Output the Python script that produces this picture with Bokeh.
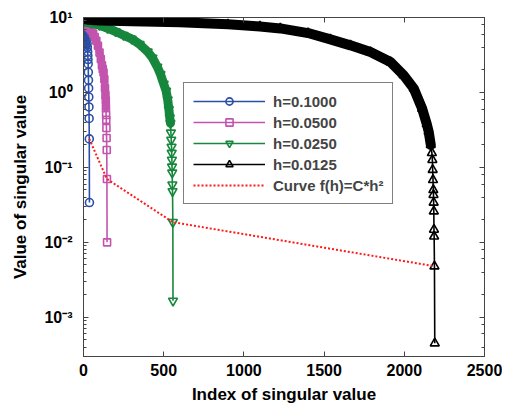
from bokeh.plotting import figure
from bokeh.models import (LogAxis, LinearAxis, Legend, LegendItem, CustomJSTickFormatter,
                          Range1d, FixedTicker)
from bokeh.embed import file_html
from bokeh.resources import INLINE

# ---------------- data ----------------
blue_x = [1, 5, 9, 13, 17, 20, 22, 24, 26, 27, 28, 29, 30, 31, 32, 33, 34, 35, 36, 37]
blue_y = [8.7, 8.1, 7.4, 6.6, 5.8, 5.1, 4.5, 4.0, 3.5, 3.1, 2.75, 2.4, 1.86, 1.46, 1.14,
          0.87, 0.64, 0.45, 0.24, 0.034]

pink_x = [1, 10, 20, 30, 40, 50, 60, 70, 80, 90, 100, 108, 115, 120, 125, 130, 134, 137,
          139, 140, 141, 142, 143, 144, 145, 146, 147]
pink_y = [8.4, 8.2, 7.9, 7.6, 7.2, 6.7, 6.1, 5.5, 4.9, 4.2, 3.4, 2.8, 2.3, 2.05, 1.85, 1.5,
          1.15, 0.92, 0.78, 0.62, 0.5, 0.43, 0.336, 0.247, 0.171, 0.070, 0.0100]

green_x = [1, 50, 100, 150, 200, 250, 300, 350, 400, 430, 460, 480, 500, 515, 525, 532, 538,
           542, 545, 547, 549, 550, 551, 552, 553, 554, 555, 557, 558]
green_y = [8.7, 8.4, 7.9, 7.2, 6.5, 5.8, 5.2, 4.4, 3.5, 2.9, 2.2, 1.75, 1.3, 1.05, 0.8, 0.6,
           0.46, 0.39, 0.29, 0.233, 0.188, 0.156, 0.126, 0.102, 0.085, 0.059, 0.048, 0.0186,
           0.00166]

black_x = [1, 100, 300, 600, 900, 1100, 1227, 1400, 1539, 1664, 1789, 1914, 1996, 2059, 2111,
           2140, 2152, 2165, 2172, 2175, 2177, 2179, 2181, 2182, 2183, 2184, 2185, 2186, 2188,
           2190]
black_y = [9.4, 9.1, 8.9, 8.67, 8.1, 7.6, 7.15, 6.2, 5.1, 4.25, 3.46, 2.55, 1.70, 1.13, 0.61,
           0.38, 0.30, 0.2, 0.156, 0.126, 0.093, 0.068, 0.050, 0.043, 0.034, 0.026, 0.0148,
           0.012, 0.0048, 0.00045]

# number of leading points drawn so densely that they merge into a band
blue_dense, pink_dense, green_dense, black_dense = 8, 20, 18, 18

# red curve f(h)=C*h^2 goes through the second-to-last point of each series
red_x = [blue_x[-2], pink_x[-2], green_x[-2], black_x[-2]]
red_y = [blue_y[-2], pink_y[-2], green_y[-2], black_y[-2]]

labels = ["h=0.1000", "h=0.0500", "h=0.0250", "h=0.0125", "Curve f(h)=C*h\u00b2"]
x_ticks = [0, 500, 1000, 1500, 2000, 2500]

# ---------------- styling ----------------
BLUE = "#2B4EA6"
PINK = "#C254AE"
GREEN = "#16873C"
BLACK = "#000000"
RED = "#FF1A1A"
FONT = "Liberation Sans"
AX = "#444444"

p = figure(width=502, height=408, y_axis_type="log",
           x_range=Range1d(0, 2500), y_range=Range1d(3e-4, 10),
           output_backend="svg", toolbar_location=None,
           min_border_left=83, min_border_right=18, min_border_top=17, min_border_bottom=52)
p.grid.visible = False
p.outline_line_color = AX

sup = CustomJSTickFormatter(code="""
const e = Math.round(Math.log10(tick));
const m = {"-":"\u207b","0":"\u2070","1":"\u00b9","2":"\u00b2","3":"\u00b3","4":"\u2074",
           "5":"\u2075","6":"\u2076","7":"\u2077","8":"\u2078","9":"\u2079"};
return "10" + String(e).split("").map(c => m[c]).join("");
""")
blank = CustomJSTickFormatter(code="return '';")

xa = p.xaxis[0]
xa.ticker = FixedTicker(ticks=x_ticks)
xa.axis_label = "Index of singular value"
ya = p.yaxis[0]
ya.formatter = sup
ya.axis_label = "Value of singular value"

for ax in (xa, ya):
    ax.axis_line_color = AX
    ax.major_tick_line_color = AX
    ax.minor_tick_line_color = AX
    ax.major_tick_in = 5
    ax.major_tick_out = 0
    ax.minor_tick_in = 3
    ax.minor_tick_out = 0
    ax.major_label_text_font = FONT
    ax.major_label_text_font_style = "bold"
    ax.major_label_text_font_size = "16px"
    ax.major_label_text_color = "black"
    ax.axis_label_text_font = FONT
    ax.axis_label_text_font_style = "bold"
    ax.axis_label_text_font_size = "17px"
    ax.axis_label_text_color = "black"
xa.minor_tick_line_color = None
xa.major_label_standoff = 7
xa.axis_label_standoff = 6
ya.major_label_standoff = 11
ya.axis_label_standoff = 11

top = LinearAxis(ticker=FixedTicker(ticks=x_ticks), formatter=blank,
                 major_tick_in=5, major_tick_out=0, minor_tick_line_color=None,
                 axis_line_color=AX, major_tick_line_color=AX, major_label_standoff=0)
right = LogAxis(formatter=blank, major_tick_in=5, major_tick_out=0,
                minor_tick_in=3, minor_tick_out=0, axis_line_color=AX,
                major_tick_line_color=AX, minor_tick_line_color=AX, major_label_standoff=0)
p.add_layout(top, "above")
p.add_layout(right, "right")

# ---------------- series ----------------
def series(x, y, n_dense, color, marker, size, band_w):
    p.line(x[:n_dense], y[:n_dense], line_width=band_w, line_color=color,
           line_join="round", line_cap="round")
    ln = p.line(x, y, line_width=1.6, line_color=color)
    sc = p.scatter(x, y, marker=marker, size=size, line_color=color, fill_color=None,
                   line_width=1.6)
    return [ln, sc]

r_blue = series(blue_x, blue_y, blue_dense, BLUE, "circle", 8, 6)
r_pink = series(pink_x, pink_y, pink_dense, PINK, "square", 7, 7)
r_green = series(green_x, green_y, green_dense, GREEN, "inverted_triangle", 9, 9)
r_black = series(black_x, black_y, black_dense, BLACK, "triangle", 9, 10)
r_red = p.line(red_x, red_y, line_width=2, line_color=RED, line_dash="2 2")

legend = Legend(items=[LegendItem(label=labels[0], renderers=r_blue),
                       LegendItem(label=labels[1], renderers=r_pink),
                       LegendItem(label=labels[2], renderers=r_green),
                       LegendItem(label=labels[3], renderers=r_black),
                       LegendItem(label=labels[4], renderers=[r_red])],
                location=(100, 152), margin=0, padding=9, spacing=3,
                glyph_width=72, glyph_height=18, label_height=18, label_standoff=8,
                label_text_font=FONT, label_text_font_style="bold",
                label_text_font_size="15px", border_line_color="black",
                border_line_width=1, background_fill_alpha=1)
p.add_layout(legend)

open("out.html", "w").write(file_html(p, INLINE))
